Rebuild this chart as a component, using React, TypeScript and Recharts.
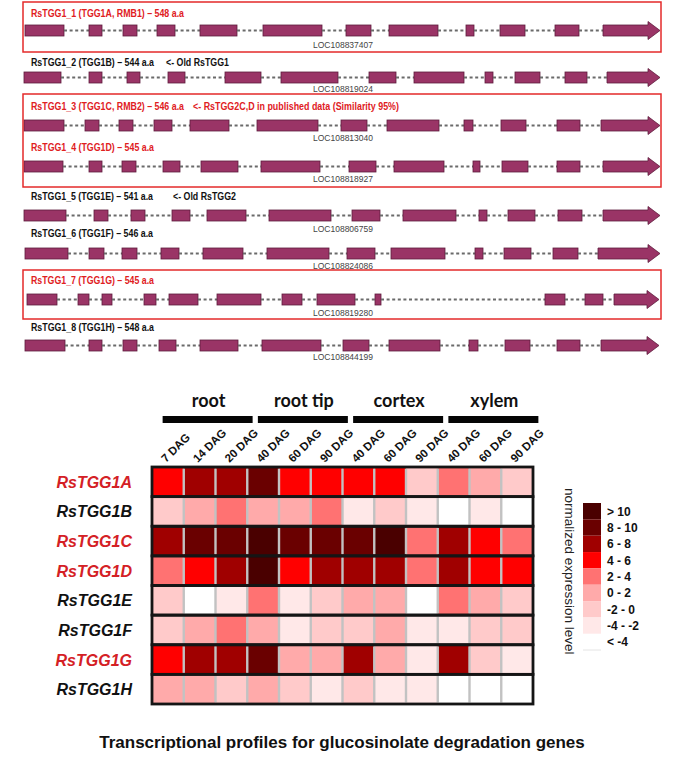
import React from "react";
import {
  BarChart,
  Bar,
  XAxis,
  YAxis,
  ScatterChart,
  Scatter,
} from "recharts";

// ---- gene structures (exon start/end, gene coordinate units) ----
const exonsA = [[1, 40], [65, 78], [99, 113], [133, 151], [176, 213], [239, 298], [322, 347], [365, 414], [442, 450], [476, 501], [531, 555], [579, 636]];
const exonsB = [[0, 37], [65, 78], [103, 116], [144, 161], [201, 237], [257, 314], [345, 372], [390, 440], [461, 469], [491, 516], [541, 563], [583, 636]];
const exonsC = [[0, 40], [61, 75], [95, 109], [130, 148], [166, 205], [233, 294], [317, 343], [363, 415], [440, 449], [477, 502], [533, 556], [577, 636]];
const exonsD = [[0, 39], [65, 78], [98, 112], [139, 156], [177, 214], [237, 296], [325, 352], [370, 420], [449, 456], [478, 504], [533, 556], [579, 636]];
const exonsE = [[0, 42], [70, 84], [107, 121], [148, 166], [183, 222], [245, 307], [328, 356], [379, 432], [455, 463], [484, 511], [534, 558], [579, 636]];
const exonsF = [[1, 44], [65, 80], [98, 113], [137, 155], [179, 219], [243, 305], [323, 351], [367, 421], [451, 459], [480, 507], [529, 554], [574, 636]];
const exonsG = [[3, 33], [54, 65], [78, 88], [120, 132], [145, 174], [193, 237], [258, 278], [293, 331], [351, 357], [521, 541], [561, 579], [590, 635]];
const exonsH = [[1, 41], [65, 78], [99, 113], [135, 152], [176, 214], [238, 297], [319, 345], [365, 416], [445, 454], [481, 506], [533, 556], [577, 635]];

const geneExons = [exonsA, exonsB, exonsC, exonsD, exonsE, exonsF, exonsG, exonsH];
const geneTitles = [
  "RsTGG1_1 (TGG1A, RMB1) – 548 a.a",
  "RsTGG1_2 (TGG1B) – 544 a.a",
  "RsTGG1_3 (TGG1C, RMB2) – 546 a.a",
  "RsTGG1_4 (TGG1D) – 545 a.a",
  "RsTGG1_5 (TGG1E) – 541 a.a",
  "RsTGG1_6 (TGG1F) – 546 a.a",
  "RsTGG1_7 (TGG1G) – 545 a.a",
  "RsTGG1_8 (TGG1H) – 548 a.a",
];
const geneNotes = ["", "<- Old RsTGG1", "<- RsTGG2C,D in published data (Similarity 95%)", "", "<- Old RsTGG2", "", "", ""];
const locIds = ["LOC108837407", "LOC108819024", "LOC108813040", "LOC108818927", "LOC108806759", "LOC108824086", "LOC108819280", "LOC108844199"];
const highlighted = [true, false, true, true, false, false, true, false];

// ---- heatmap ----
const geneNames = ["RsTGG1A", "RsTGG1B", "RsTGG1C", "RsTGG1D", "RsTGG1E", "RsTGG1F", "RsTGG1G", "RsTGG1H"];
const stages = ["7 DAG", "14 DAG", "20 DAG", "40 DAG", "60 DAG", "90 DAG", "40 DAG", "60 DAG", "90 DAG", "40 DAG", "60 DAG", "90 DAG"];
const tissues = ["root", "root tip", "cortex", "xylem"];

const exprA = [5, 7, 7, 9, 5, 5, 5, 5, -1, 3, 1, -1];
const exprB = [-1, 1, 3, 1, 1, 3, -3, -1, -3, -5, -3, -5];
const exprC = [7, 9, 9, 11, 9, 9, 9, 11, 3, 7, 5, 3];
const exprD = [3, 5, 7, 11, 5, 7, 7, 7, 3, 7, 5, 5];
const exprE = [-1, -5, -3, 3, -3, -1, 1, 1, -5, 3, 1, -1];
const exprF = [-1, 1, 3, 1, -3, -1, -1, 1, -3, -3, -1, -1];
const exprG = [5, 7, 7, 9, 1, 1, 7, 1, -3, 7, -1, -3];
const exprH = [1, 1, -1, 1, -1, -3, -1, -3, -3, -5, -5, -5];
const expression = [exprA, exprB, exprC, exprD, exprE, exprF, exprG, exprH];

const legendBins = ["> 10", "8 - 10", "6 - 8", "4 - 6", "2 - 4", "0 - 2", "-2 - 0", "-4 - -2", "< -4"];
const legendColors = ["#4a0000", "#6a0000", "#a00000", "#ff0000", "#ff7272", "#ffaaaa", "#ffcaca", "#ffe8e8", "#ffffff"];

const RED = "#e0201e";
const EXON = "#9a3466";
const EXON_EDGE = "#5e1c3c";
const SANS = "'Liberation Sans', Arial, sans-serif";

// layout of the gene panel
const rowY = [30, 76.5, 125, 165.5, 214.5, 252.5, 298.5, 345];
const titleY = [13.5, 62, 106, 147, 196, 233, 280.5, 327.5];
const titleW = [153, 123, 153, 123, 122, 122, 123, 123];
const locY = [45, 89, 138, 179, 229, 266, 313, 357];
const noteX = [0, 166, 193, 0, 173, 0, 0, 0];
const noteW = [0, 63, 206, 0, 63, 0, 0, 0];
const frames = [[2, 50], [94, 93], [270, 49]];
const SQUEEZE = 0.8; // condensed look of the label font

const colorFor = (v: number) => {
  if (v > 10) return legendColors[0];
  if (v >= 8) return legendColors[1];
  if (v >= 6) return legendColors[2];
  if (v >= 4) return legendColors[3];
  if (v >= 2) return legendColors[4];
  if (v >= 0) return legendColors[5];
  if (v >= -2) return legendColors[6];
  if (v >= -4) return legendColors[7];
  return legendColors[8];
};

// stacked segments: lead, exon, intron, exon, ...
const segmentKeys: string[] = ["lead"];
for (let i = 0; i < 12; i++) {
  segmentKeys.push("ex" + i);
  if (i < 11) segmentKeys.push("in" + i);
}

const toSegments = (name: string, exons: number[][]) => {
  const row: any = { name, lead: exons[0][0] };
  exons.forEach(([s, e], i) => {
    row["ex" + i] = e - s;
    if (i < exons.length - 1) row["in" + i] = exons[i + 1][0] - e;
  });
  return row;
};

const ExonShape = (props: any) => {
  const { x, y, width, height } = props;
  if (!width) return null;
  return <rect x={x} y={y} width={width} height={height} fill={EXON} stroke={EXON_EDGE} strokeWidth={0.8} />;
};

const ArrowExon = (props: any) => {
  const { x, y, width, height } = props;
  if (!width) return null;
  const head = 12;
  const body = x + width - head;
  const pts = [
    [x, y], [body, y], [body, y - 3.5], [x + width, y + height / 2],
    [body, y + height + 3.5], [body, y + height], [x, y + height],
  ].map((p) => p.join(",")).join(" ");
  return <polygon points={pts} fill={EXON} stroke={EXON_EDGE} strokeWidth={0.8} />;
};

const IntronShape = (props: any) => {
  const { x, y, width, height } = props;
  if (!width) return null;
  const cy = y + height / 2;
  return <line x1={x} x2={x + width} y1={cy} y2={cy} stroke="#6a6a6a" strokeWidth={2} strokeDasharray="3 2.6" />;
};

function GeneRow({ index }: { index: number }) {
  const data = [toSegments(geneNames[index], geneExons[index])];
  return (
    <div style={{ position: "absolute", left: 0, top: rowY[index] - 12 }}>
      <BarChart
        width={683}
        height={24}
        data={data}
        layout="vertical"
        barSize={11}
        margin={{ top: 0, right: 23, bottom: 0, left: 24 }}
      >
        <XAxis type="number" domain={[0, 636]} hide />
        <YAxis type="category" dataKey="name" hide />
        {segmentKeys.map((k) => (
          <Bar
            key={k}
            dataKey={k}
            stackId="gene"
            isAnimationActive={false}
            shape={
              k === "lead"
                ? () => null
                : k === "ex11"
                ? ArrowExon
                : k.startsWith("ex")
                ? ExonShape
                : IntronShape
            }
          />
        ))}
      </BarChart>
    </div>
  );
}

// heatmap geometry
const HM_W = 683;
const HM_H = 350;
const HM_TOP = 370;
const PLOT_L = 152;
const PLOT_R = 533;
const AXIS_TOP_H = 97;
const HM_BOTTOM = 16;
const CELL_W = (PLOT_R - PLOT_L) / stages.length;
const CELL_H = (HM_H - AXIS_TOP_H - HM_BOTTOM) / geneNames.length;

const cells = expression.flatMap((vals, row) => vals.map((value, col) => ({ col, row, value })));
// one frame per gene row, centred on the middle of the stage axis
const rowFrames = geneNames.map((_, row) => ({ col: (stages.length - 1) / 2, row }));

const HeatCell = (props: any) => {
  const { cx, cy, payload } = props;
  const x0 = cx - CELL_W / 2;
  const y0 = cy - CELL_H / 2;
  return (
    <g>
      <rect x={x0} y={y0} width={CELL_W} height={CELL_H} fill={colorFor(payload.value)} />
      {payload.col > 0 && (
        <line x1={x0} x2={x0} y1={y0 + 1.5} y2={y0 + CELL_H - 1.5} stroke="#c2c2c2" strokeWidth={2.4} />
      )}
    </g>
  );
};

const RowFrame = (props: any) => {
  const { cx, cy } = props;
  const w = CELL_W * stages.length;
  return <rect x={cx - w / 2} y={cy - CELL_H / 2} width={w} height={CELL_H} fill="none" stroke="#151515" strokeWidth={2.8} />;
};

const StageTick = (props: any) => {
  const { x, y, payload } = props;
  const i = payload.value as number;
  const isGroupCenter = i % 3 === 1;
  return (
    <g>
      <text
        transform={`translate(${x - 2},${y}) rotate(-45)`}
        fontSize={11.5}
        fontWeight="bold"
        fontFamily={SANS}
        fill="#111"
      >
        {stages[i]}
      </text>
      {isGroupCenter && (
        <g>
          <rect x={x + 8 - 45} y={y - 47} width={90} height={7} fill="#050505" />
          <text x={x + 9} y={y - 56} textAnchor="middle" fontSize={18} fontWeight="bold" fontFamily="Lato, 'Open Sans', sans-serif" fill="#111">
            {tissues[(i - 1) / 3]}
          </text>
        </g>
      )}
    </g>
  );
};

const GeneTick = (props: any) => {
  const { x, y, payload } = props;
  const i = payload.value as number;
  return (
    <text
      x={x}
      y={y}
      dy={6}
      textAnchor="end"
      fontSize={16}
      fontWeight="bold"
      fontStyle="italic"
      fontFamily={SANS}
      fill={highlighted[i] ? "#d42025" : "#111"}
    >
      {geneNames[i]}
    </text>
  );
};

function Heatmap() {
  return (
    <div style={{ position: "absolute", left: 0, top: HM_TOP }}>
      <ScatterChart width={HM_W} height={HM_H} margin={{ top: 0, right: HM_W - PLOT_R, bottom: HM_BOTTOM, left: 0 }}>
        <XAxis
          type="number"
          dataKey="col"
          orientation="top"
          domain={[-0.5, 11.5]}
          ticks={stages.map((_, i) => i)}
          interval={0}
          height={AXIS_TOP_H}
          axisLine={false}
          tickLine={false}
          tickSize={0}
          tickMargin={4}
          tick={StageTick}
        />
        <YAxis
          type="number"
          dataKey="row"
          domain={[-0.5, 7.5]}
          reversed
          ticks={geneNames.map((_, i) => i)}
          interval={0}
          width={PLOT_L}
          axisLine={false}
          tickLine={false}
          tickSize={0}
          tickMargin={20}
          tick={GeneTick}
        />
        <Scatter data={cells} shape={HeatCell} isAnimationActive={false} />
        <Scatter data={rowFrames} shape={RowFrame} isAnimationActive={false} />
      </ScatterChart>
    </div>
  );
}

const CondensedText = ({ x, y, width, color, children }: any) => (
  <text
    transform={`translate(${x},${y}) scale(${SQUEEZE},1)`}
    fontSize={10.5}
    fontWeight="bold"
    fontFamily={SANS}
    textLength={width / SQUEEZE}
    lengthAdjust="spacingAndGlyphs"
    fill={color}
  >
    {children}
  </text>
);

export default function App() {
  return (
    <div style={{ position: "absolute", left: 0, top: 0, width: 683, height: 762, background: "#fff", overflow: "hidden" }}>
      {geneNames.map((_, i) => (
        <GeneRow key={i} index={i} />
      ))}
      <Heatmap />
      <svg width={683} height={762} style={{ position: "absolute", left: 0, top: 0, pointerEvents: "none" }}>
        {frames.map(([y, h], i) => (
          <rect key={i} x={23} y={y} width={638} height={h} fill="none" stroke="#e42a2a" strokeWidth={1.5} />
        ))}
        {geneTitles.map((t, i) => (
          <g key={i}>
            <CondensedText x={31} y={titleY[i] + 3.6} width={titleW[i]} color={highlighted[i] ? RED : "#111"}>
              {t}
            </CondensedText>
            {geneNotes[i] && (
              <CondensedText x={noteX[i]} y={titleY[i] + 3.6} width={noteW[i]} color={highlighted[i] ? RED : "#111"}>
                {geneNotes[i]}
              </CondensedText>
            )}
            <text x={343} y={locY[i] + 3} textAnchor="middle" fontSize={8.5} fontFamily={SANS} fill="#444">
              {locIds[i]}
            </text>
          </g>
        ))}
        {legendBins.map((b, i) => (
          <g key={b}>
            <rect x={583} y={503 + i * 16.35} width={18} height={16.35} fill={legendColors[i]} />
            <text x={607} y={503 + i * 16.35 + 12.5} fontSize={12} fontWeight="bold" fontFamily={SANS} fill="#111">
              {b}
            </text>
          </g>
        ))}
        <line x1={583} x2={601} y1={650} y2={650} stroke="#e4e4e4" strokeWidth={1} />
        <text transform="translate(565,488) rotate(90)" fontSize={13.5} fontFamily={SANS} fill="#222">
          normalized expression level
        </text>
        <text x={342} y={748} textAnchor="middle" fontSize={17} fontWeight="bold" fontFamily={SANS} fill="#111">
          Transcriptional profiles for glucosinolate degradation genes
        </text>
      </svg>
    </div>
  );
}
